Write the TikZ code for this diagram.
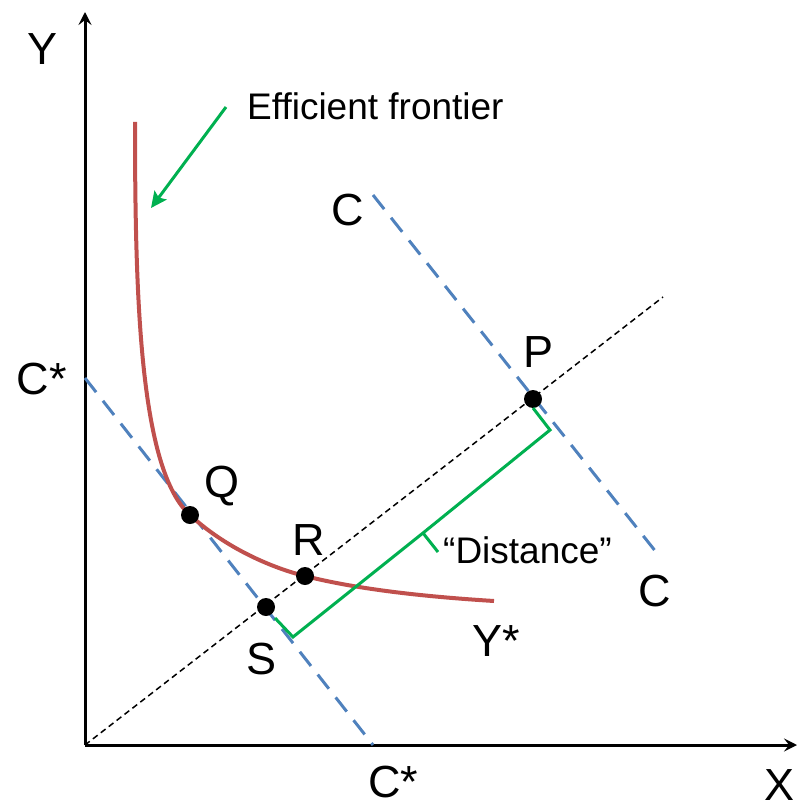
\documentclass[tikz,border=0pt]{standalone}
\usepackage{fontspec}
\setmainfont{Liberation Sans}
\usetikzlibrary{arrows.meta}
\definecolor{fred}{RGB}{192,80,77}
\definecolor{fblue}{RGB}{79,129,189}
\definecolor{fgreen}{RGB}{0,176,80}
\tikzset{
  axis/.style={line width=3pt,-{Stealth[length=13pt,width=13pt,inset=5pt]}},
  ray/.style={line width=1.5pt,dash pattern=on 6pt off 4pt},
  bluedash/.style={fblue,line width=3pt,dash pattern=on 18pt off 11pt},
  frontier/.style={fred,line width=4pt},
  greenline/.style={fgreen,line width=3pt},
  dot/.style={circle,fill=black,inner sep=0pt,minimum size=18pt},
  lab/.style={inner sep=0pt,font=\fontsize{45}{45}\selectfont},
  smalllab/.style={inner sep=0pt,font=\fontsize{37}{37}\selectfont}
}
\begin{document}
\begin{tikzpicture}[x=1pt,y=-1pt]
\useasboundingbox (0,0) rectangle (798,805);
% axes
\coordinate (O) at (85,745);
\coordinate (Ytop) at (85,12);
\coordinate (Xend) at (797,745);
\draw[axis] (O) -- (Ytop);
\draw[axis] (O) -- (Xend);
% ray
\coordinate (rayend) at (663,297);
\draw[ray] (O) -- (rayend);
% budget lines
\coordinate (cs1) at (85,378);
\coordinate (cs2) at (373,745);
\coordinate (c1) at (373,195);
\coordinate (c2) at (660,557);
\draw[bluedash] (cs1) -- (cs2);
\draw[bluedash] (c1) -- (c2);
% frontier
\draw[frontier] (135,122) .. controls (135,300) and (140,470) .. (190,515)
  .. controls (230,552) and (280,570) .. (305,576)
  .. controls (360,590) and (430,597) .. (494,601);
% points
\node[dot] (Q) at (190,515) {};
\node[dot] (R) at (305,576) {};
\node[dot] (S) at (266,607) {};
\node[dot] (P) at (533,399) {};
% brace
\coordinate (b1) at (275,618);
\coordinate (b2) at (293,637);
\coordinate (bm) at (423,533);
\coordinate (bt) at (438,552);
\coordinate (b3) at (550,430);
\coordinate (b4) at (533,408);
\draw[greenline,line join=miter] (b1) -- (b2) -- (bm) -- (b3) -- (b4);
\draw[greenline] (bm) -- (bt);
% annotation arrow
\node[smalllab,anchor=base west] (eff) at (247,120) {Efficient frontier};
\coordinate (arrS) at (226,107);
\coordinate (arrE) at (151,208);
\draw[greenline,-{Stealth[length=16pt,width=15pt,inset=3pt]}] (arrS) -- (arrE);
% labels
\node[lab] (lY) at (43,49) {Y};
\node[lab] (lX) at (779,785) {X};
\node[lab] (lCsL) at (42,379) {C*};
\node[lab] (lCsB) at (393,782) {C*};
\node[lab] (lC1) at (348,210) {C};
\node[lab] (lC2) at (655,591) {C};
\node[lab] (lP) at (538,352) {P};
\node[lab,anchor=base] (lQ) at (222,497) {Q};
\node[lab] (lR) at (309,540) {R};
\node[lab] (lS) at (262,659) {S};
\node[lab] (lYs) at (496,641) {Y*};
\node[smalllab,anchor=base west] (dist) at (443,563) {“Distance”};
\end{tikzpicture}
\end{document}
